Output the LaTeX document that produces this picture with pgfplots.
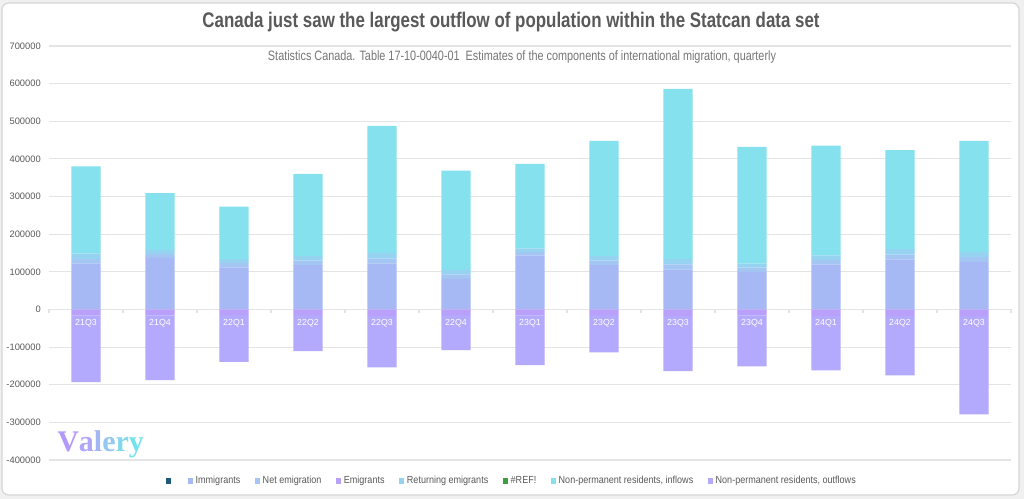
\documentclass[border=0pt]{standalone}
\usepackage{fontspec}
\setmainfont{Liberation Sans}
\newfontfamily\narrow[FakeStretch=0.8]{Liberation Sans}
\newfontfamily\legfont[FakeStretch=0.88]{Liberation Sans}
\newfontfamily\logofont{Liberation Serif}
\usepackage{pgfplots}
\usepackage{pgfplotstable}
\pgfplotsset{compat=1.18}

\definecolor{cdark}{HTML}{1D5B79}
\definecolor{cimm}{HTML}{A6B9F5}
\definecolor{cnet}{HTML}{A3C6F3}
\definecolor{cemig}{HTML}{B9A0FA}
\definecolor{cret}{HTML}{95D3F0}
\definecolor{cref}{HTML}{3F9F3F}
\definecolor{cnprin}{HTML}{86E1EE}
\definecolor{cnprout}{HTML}{B3AAFE}
\definecolor{gridgray}{HTML}{E4E4E4}
\definecolor{txtgray}{HTML}{595959}
\definecolor{subgray}{HTML}{767676}
\definecolor{bordergray}{HTML}{D6D6D6}
\definecolor{outgray}{HTML}{F0F0F0}

% positive components per quarter
\pgfplotstableread{
x  imm     netem  ret    npin
0  122000  12000  14000  232000
1  137000  10000  11000  151000
2  112000  11000  11000  139000
3  118000  12000  12000  218000
4  122000  13000  15000  338000
5  81000   12000  12000  264000
6  144000  9000   9000   225000
7  118000  12000  12000  306000
8  106000  14000  14000  452000
9  100000  11000  11000  310000
10 120000  12000  12000  291000
11 133000  13000  14000  263000
12 126000  13000  13000  296000
}\posdata

% negative components per quarter
\pgfplotstableread{
x  emig    npout
0  -16000  -177000
1  -16000  -172000
2  -15000  -124000
3  -15000  -96000
4  -17000  -137000
5  -15000  -93000
6  -16000  -132000
7  -15000  -99000
8  -17000  -147000
9  -16000  -135000
10 -17000  -145000
11 -17000  -158000
12 -18000  -261000
}\negdata

\pgfplotsset{
  base/.style={
    scale only axis, width=721.5pt, height=310.5pt,
    at={(36.75pt,29.25pt)}, anchor=south west,
    xmin=-0.5, xmax=12.5, ymin=-400000, ymax=700000,
    ybar stacked, bar width=22pt,
    scaled y ticks=false, scaled x ticks=false,
  },
}

\begin{document}
\begin{tikzpicture}[x=0.75pt,y=0.75pt]
\path[use as bounding box] (0,0) rectangle (1024,499);
\fill[outgray] (0,0) rectangle (1024,499);
\draw[bordergray, line width=0.9pt, fill=white, rounded corners=5pt] (2,4) rectangle (1019,496);

\node[text=txtgray] at (511,477)
  {\resizebox{462.75pt}{!}{\narrow\bfseries Canada just saw the largest outflow of population within the Statcan data set}};

\begin{axis}[base,
  axis line style={draw=none},
  xtick=\empty,
  ytick={-400000,-300000,-200000,-100000,0,100000,200000,300000,400000,500000,600000,700000},
  yticklabels={-400000,-300000,-200000,-100000,0,100000,200000,300000,400000,500000,600000,700000},
  major tick length=0pt,
  ymajorgrids, grid style={gridgray, line width=0.8pt},
  yticklabel style={font=\fontsize{7}{8}\selectfont, text=txtgray, inner sep=0pt, xshift=-6pt},
  legend image code/.code={\fill[#1] (0pt,-1.9pt) rectangle (3.8pt,1.9pt);},
  legend columns=-1,
  legend style={draw=none, fill=none, at={(0.4813,-0.0507)}, anchor=center,
    font=\legfont\fontsize{7.7}{8}\selectfont, text=txtgray,
    /tikz/every even column/.append style={column sep=9pt}},
]
\addlegendimage{fill=cdark, draw=none}\addlegendentry{}
\addlegendimage{fill=cimm, draw=none}\addlegendentry{Immigrants}
\addlegendimage{fill=cnet, draw=none}\addlegendentry{Net emigration}
\addlegendimage{fill=cemig, draw=none}\addlegendentry{Emigrants}
\addlegendimage{fill=cret, draw=none}\addlegendentry{Returning emigrants}
\addlegendimage{fill=cref, draw=none}\addlegendentry{\#REF!}
\addlegendimage{fill=cnprin, draw=none}\addlegendentry{Non-permanent residents, inflows}
\addlegendimage{fill=cnprout, draw=none}\addlegendentry{Non-permanent residents, outflows}

\addplot[fill=cimm, draw=none] table[x=x, y=imm] {\posdata};
\addplot[fill=cnet, draw=none] table[x=x, y=netem] {\posdata};
\addplot[fill=cret, draw=none] table[x=x, y=ret] {\posdata};
\addplot[fill=cnprin, draw=none] table[x=x, y=npin] {\posdata};

\node[text=subgray] at (rel axis cs:0.4917,0.9734)
  {\resizebox{381pt}{!}{\narrow Statistics Canada. Table 17-10-0040-01\ \ Estimates of the components of international migration, quarterly}};
\end{axis}

\begin{axis}[base,
  axis on top,
  axis x line=middle, axis y line=none, axis line style={draw=none},
  ytick=\empty,
  xtick={0,1,2,3,4,5,6,7,8,9,10,11,12},
  xticklabels={21Q3,21Q4,22Q1,22Q2,22Q3,22Q4,23Q1,23Q2,23Q3,23Q4,24Q1,24Q2,24Q3},
  major tick length=0pt,
  xticklabel style={text=white, font=\fontsize{6.6}{7}\selectfont, yshift=-4pt},
  extra x ticks={-0.5,0.5,1.5,2.5,3.5,4.5,5.5,6.5,7.5,8.5,9.5,10.5,11.5,12.5},
  extra x tick labels={},
  extra x tick style={major tick length=3pt, tick align=outside, tick style={draw=gridgray, line width=0.8pt}},
]
\addplot[fill=cemig, draw=none] table[x=x, y=emig] {\negdata};
\addplot[fill=cnprout, draw=none] table[x=x, y=npout] {\negdata};
\end{axis}

\node[anchor=base west, inner sep=0pt] at (57,47)
  {\logofont\bfseries\fontsize{22.5}{24}\selectfont
   \textcolor[HTML]{B39AFA}{V}\textcolor[HTML]{AFA6F7}{a}\textcolor[HTML]{A2B6F3}{l}\textcolor[HTML]{93C8F0}{e}\textcolor[HTML]{84D8EE}{r}\textcolor[HTML]{74E4EC}{y}};
\end{tikzpicture}
\end{document}
